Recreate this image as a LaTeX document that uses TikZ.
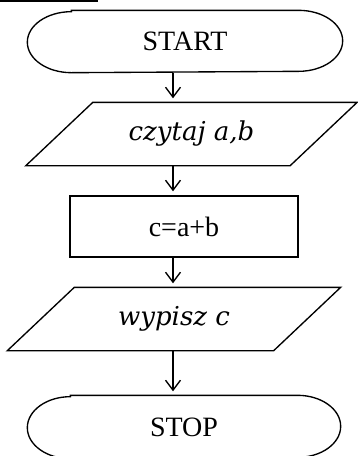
\documentclass[tikz,border=0pt]{standalone}
\usepackage{fontspec}
\setmainfont{Liberation Serif}
\newfontfamily\itfont{DejaVu Serif}
\usetikzlibrary{arrows.meta}
\begin{document}
\begin{tikzpicture}[x=1pt,y=-1pt,
  line width=1.35pt,
  box/.style={draw=none,inner sep=0pt,minimum height=61pt},
  rmtext/.style={font=\fontsize{28}{32}\selectfont},
  ittext/.style={font=\itfont\itshape\fontsize{26}{30}\selectfont},
  arr/.style={-{Straight Barb[length=10pt,width=15pt]},shorten >=4pt}]
\useasboundingbox (0,0) rectangle (357,456);
% cut-off heading underline
\draw[line width=1.6pt] (0,0.8) -- (98,0.8);
% nodes
\node[box,rmtext,minimum width=314pt] (start) at (185,41.5) {START};
\node[box,ittext,minimum width=263pt,minimum height=62pt] (in) at (191.5,134) {czytaj a,b};
\node[box,rmtext,minimum width=228pt,draw] (calc) at (184,226.5) {c=a+b};
\node[box,ittext,minimum width=265pt,minimum height=62pt] (out) at (174,319) {wypisz c};
\node[box,rmtext,minimum width=312pt,minimum height=62pt] (stop) at (184,427) {STOP};
% terminators
\draw ([xshift=44pt]start.north west) -- ([xshift=-44pt]start.north east)
  arc[start angle=90,end angle=-90,x radius=44pt,y radius=30.5pt]
  -- ([xshift=44pt]start.south west)
  arc[start angle=270,end angle=90,x radius=44pt,y radius=30.5pt] -- cycle;
\draw ([xshift=43pt]stop.north west) -- ([xshift=-43pt]stop.north east)
  arc[start angle=90,end angle=-90,x radius=43pt,y radius=31pt]
  -- ([xshift=43pt]stop.south west)
  arc[start angle=270,end angle=90,x radius=43pt,y radius=31pt] -- cycle;
% parallelograms
\draw ([xshift=33.5pt]in.north west) -- ([xshift=33.5pt]in.north east)
  -- ([xshift=-33.5pt]in.south east) -- ([xshift=-33.5pt]in.south west) -- cycle;
\draw ([xshift=33.5pt]out.north west) -- ([xshift=33.5pt]out.north east)
  -- ([xshift=-33.5pt]out.south east) -- ([xshift=-33.5pt]out.south west) -- cycle;
% connectors
\coordinate (ax) at (173,0);
\draw[arr] (start.south -| ax) -- (in.north -| ax);
\draw[arr] (in.south -| ax) -- (calc.north -| ax);
\draw[arr] (calc.south -| ax) -- (out.north -| ax);
\draw[arr] (out.south -| ax) -- (stop.north -| ax);
\end{tikzpicture}
\end{document}
